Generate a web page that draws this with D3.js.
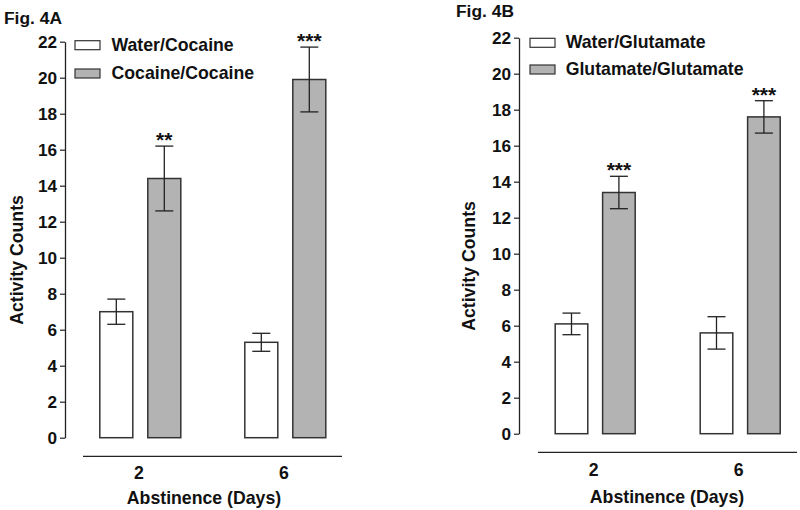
<!DOCTYPE html>
<html><head><meta charset="utf-8">
<script src="https://cdn.jsdelivr.net/npm/d3@7"></script>
<style>
body{margin:0;background:#fff;}
svg{display:block;font-family:"Liberation Sans",Arial,sans-serif;font-weight:bold;}
</style></head><body>
<svg id="c" width="800" height="510"></svg>
<script>
// ---- data ----
const days = ["2", "6"];
const yTicks = [0, 2, 4, 6, 8, 10, 12, 14, 16, 18, 20, 22];
// Fig 4A
const seriesA = ["Water/Cocaine", "Cocaine/Cocaine"];
const meanA_water = [7.0, 5.3];
const seA_water = [0.7, 0.5];
const meanA_coc = [14.4, 19.9];
const seA_coc = [1.8, 1.8];
const starsA = ["", "", "**", "***"];
// Fig 4B
const seriesB = ["Water/Glutamate", "Glutamate/Glutamate"];
const meanB_water = [6.1, 5.6];
const seB_water = [0.6, 0.9];
const meanB_glu = [13.4, 17.6];
const seB_glu = [0.9, 0.9];
const starsB = ["", "", "***", "***"];

const fills = ["#ffffff", "#b3b3b3"];
const svg = d3.select("#c");
const FS = 17.7;

function panel(cfg) {
  const g = svg.append("g");
  const y = d3.scaleLinear().domain([0, 22]).range([cfg.y0, cfg.y22]);
  const xc = d3.scalePoint().domain(days).range(cfg.centers);
  const xs = d3.scaleBand().domain(cfg.series).range([-cfg.gw / 2, cfg.gw / 2]).paddingInner(0.3125).paddingOuter(0);

  // y axis
  const ya = g.append("g").attr("transform", `translate(${cfg.axisX},0)`)
    .call(d3.axisLeft(y).tickValues(yTicks).tickSize(5).tickSizeOuter(0).tickPadding(3));
  ya.select(".domain").attr("stroke", "#222").attr("stroke-width", 1.3);
  ya.selectAll(".tick line").attr("stroke", "#222").attr("stroke-width", 1.2);
  ya.selectAll(".tick text").attr("font-size", 17.2).attr("font-weight", "bold")
    .attr("font-family", "Liberation Sans, Arial, sans-serif").attr("fill", "#111");

  // bars
  const rows = [];
  cfg.series.forEach((s, si) => {
    days.forEach((d, di) => {
      rows.push({ s, si, d, v: cfg.means[si][di], e: cfg.ses[si][di], star: cfg.stars[si * 2 + di] });
    });
  });
  g.selectAll("rect.bar").data(rows).enter().append("rect")
    .attr("x", r => xc(r.d) + xs(r.s))
    .attr("width", xs.bandwidth())
    .attr("y", r => y(r.v))
    .attr("height", r => y(0) - y(r.v))
    .attr("fill", r => fills[r.si])
    .attr("stroke", "#333").attr("stroke-width", 1.5);

  const cx = r => xc(r.d) + xs(r.s) + xs.bandwidth() / 2;
  const eb = g.selectAll("g.err").data(rows).enter().append("g").attr("stroke", "#222").attr("stroke-width", 1.3);
  eb.append("line").attr("x1", cx).attr("x2", cx).attr("y1", r => y(r.v + r.e)).attr("y2", r => y(r.v - r.e));
  eb.append("line").attr("x1", r => cx(r) - 9).attr("x2", r => cx(r) + 9).attr("y1", r => y(r.v + r.e)).attr("y2", r => y(r.v + r.e));
  eb.append("line").attr("x1", r => cx(r) - 9).attr("x2", r => cx(r) + 9).attr("y1", r => y(r.v - r.e)).attr("y2", r => y(r.v - r.e));

  g.selectAll("text.star").data(rows.filter(r => r.star)).enter().append("text")
    .attr("x", cx).attr("y", r => y(r.v + r.e) + 1)
    .attr("text-anchor", "middle").attr("font-size", 21).attr("fill", "#111")
    .text(r => r.star);

  // x axis line + labels
  g.append("line").attr("x1", cfg.xLine[0]).attr("x2", cfg.xLine[1])
    .attr("y1", cfg.xLineY).attr("y2", cfg.xLineY).attr("stroke", "#222").attr("stroke-width", 1.3);
  const xa = g.append("g").attr("transform", `translate(-2,${cfg.xLabY - 13})`)
    .call(d3.axisBottom(xc).tickSize(0).tickPadding(0));
  xa.select(".domain").remove();
  xa.selectAll(".tick text").attr("font-size", FS).attr("font-weight", "bold")
    .attr("font-family", "Liberation Sans, Arial, sans-serif").attr("fill", "#111")
    .attr("dy", "0.73em");

  g.append("text").attr("x", cfg.xTitleX).attr("y", cfg.xTitleY).attr("text-anchor", "middle")
    .attr("font-size", FS).attr("fill", "#111").text("Abstinence (Days)");
  g.append("text").attr("transform", `translate(${cfg.yTitleX},${cfg.yTitleY}) rotate(-90)`)
    .attr("text-anchor", "middle").attr("font-size", FS).attr("fill", "#111").text("Activity Counts");

  // legend
  cfg.series.forEach((s, i) => {
    g.append("rect").attr("x", cfg.leg.x).attr("y", cfg.leg.y[i]).attr("width", 25).attr("height", 9)
      .attr("fill", fills[i]).attr("stroke", "#333").attr("stroke-width", 1.2);
    g.append("text").attr("x", cfg.leg.tx).attr("y", cfg.leg.y[i] + 9.8)
      .attr("font-size", FS).attr("fill", "#111").text(s);
  });

  g.append("text").attr("x", cfg.fig.x).attr("y", cfg.fig.y).attr("font-size", 17.4).attr("fill", "#111").text(cfg.fig.t);
}

panel({
  series: seriesA, means: [meanA_water, meanA_coc], ses: [seA_water, seA_coc], stars: starsA,
  y0: 437.7, y22: 41.7, axisX: 65, centers: [140.3, 285.3], gw: 81,
  xLine: [83, 342], xLineY: 456.3, xLabY: 479.5, xTitleX: 204, xTitleY: 503.5,
  yTitleX: 23, yTitleY: 260,
  leg: { x: 75, y: [40.7, 69], tx: 111.5 },
  fig: { x: 4, y: 23.5, t: "Fig. 4A" }
});
panel({
  series: seriesB, means: [meanB_water, meanB_glu], ses: [seB_water, seB_glu], stars: starsB,
  y0: 433.7, y22: 37.7, axisX: 519, centers: [595.2, 740.2], gw: 80,
  xLine: [538, 797], xLineY: 452.3, xLabY: 476.5, xTitleX: 667, xTitleY: 502.5,
  yTitleX: 475, yTitleY: 266,
  leg: { x: 530, y: [38.3, 65], tx: 565.7 },
  fig: { x: 456, y: 17, t: "Fig. 4B" }
});
</script>
</body></html>
